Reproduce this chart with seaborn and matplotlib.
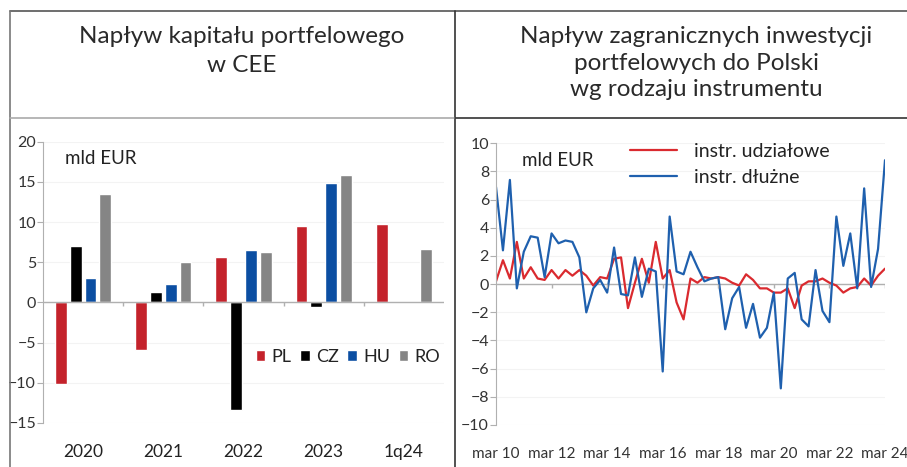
import numpy as np
import pandas as pd
import seaborn as sns
import matplotlib.pyplot as plt
from matplotlib.lines import Line2D

# left panel: portfolio inflows in CEE, bn EUR
periods = ["2020", "2021", "2022", "2023", "1q24"]
countries = ["PL", "CZ", "HU", "RO"]
pl = [-10.2, -5.9, 5.7, 9.5, 9.8]
cz = [7.0, 1.3, -13.4, -0.6, np.nan]
hu = [3.1, 2.3, 6.5, 14.9, np.nan]
ro = [13.5, 5.0, 6.3, 15.8, 6.6]
bar_colors = ["#C4222B", "#000000", "#0B4EA2", "#858585"]

# right panel: quarterly inflows to Poland by instrument, bn EUR
tick_labels = ["mar 10", "mar 12", "mar 14", "mar 16", "mar 18", "mar 20", "mar 22", "mar 24"]
udzialowe = [0.2, 1.7, 0.4, 3.0, 0.4, 1.2, 0.4, 0.3, 1.0, 0.4, 1.0, 0.6, 1.0, 0.6, -0.1, 0.5,
             0.4, 1.8, 1.9, -1.7, 0.1, 1.8, 0.1, 3.0, 0.4, 1.0, -1.3, -2.5, 0.4, 0.1, 0.5, 0.4,
             0.5, 0.4, 0.1, -0.1, 0.7, 0.3, -0.3, -0.3, -0.6, -0.6, -0.3, -1.7, -0.1, 0.2, 0.2, 0.4,
             0.1, -0.1, -0.6, -0.3, -0.2, 0.4, -0.1, 0.6, 1.1]
dluzne = [6.9, 2.4, 7.4, -0.3, 2.3, 3.4, 3.3, 0.5, 3.6, 2.9, 3.1, 3.0, 1.9, -2.0, -0.3, 0.3,
          -0.6, 2.6, -0.7, -0.8, 1.9, -0.9, 1.1, 0.9, -6.2, 4.8, 0.9, 0.7, 2.3, 1.2, 0.2, 0.4,
          0.5, -3.2, -1.0, -0.2, -3.1, -1.4, -3.8, -3.1, -0.6, -7.4, 0.4, 0.8, -2.5, -3.0, 1.0, -1.9,
          -2.7, 4.8, 1.3, 3.6, -0.3, 6.8, -0.2, 2.5, 8.8]

sns.set_style("white")
plt.rcParams["font.family"] = ["Lato", "DejaVu Sans"]
plt.rcParams["text.color"] = "#222222"

W, H = 907, 467
fig = plt.figure(figsize=(W / 100, H / 100), dpi=100)


def fx(px):
    return px / W


def fy(py):
    return 1 - py / H


# frame lines
for xs, ys, c in [([10, W], [11, 11], "#555555"), ([10, 10], [11, H], "#777777"),
                  ([455, 455], [11, H], "#333333"), ([10, 455], [118, 118], "#aaaaaa"),
                  ([455, W], [118, 118], "#333333")]:
    fig.add_artist(Line2D([fx(x) for x in xs], [fy(y) for y in ys], color=c, lw=1.2))

fig.text(fx(242), fy(51), "Napływ kapitału portfelowego\nw CEE", ha="center", va="center",
         fontsize=17.5, color="#2a2a2a", linespacing=1.45)
fig.text(fx(696), fy(63), "Napływ zagranicznych inwestycji\nportfelowych do Polski\nwg rodzaju instrumentu",
         ha="center", va="center", fontsize=17.5, color="#2a2a2a", linespacing=1.33)

# ---- left: bars
df = pd.DataFrame({"period": np.repeat(periods, 4),
                   "country": countries * len(periods),
                   "value": np.ravel(np.column_stack([pl, cz, hu, ro]))}).dropna()

ax1 = fig.add_axes([fx(43), fy(423), fx(444 - 43), (423 - 141.7) / H])
sns.barplot(data=df, x="period", y="value", hue="country", order=periods, hue_order=countries,
            palette=bar_colors, saturation=1, width=0.74, gap=0.2, ax=ax1, legend=True)
ax1.set_xlim(-0.5, len(periods) - 0.5)
ax1.set_ylim(-15, 20)
ax1.set_yticks(range(-15, 21, 5))
ax1.set_xlabel("")
ax1.set_ylabel("")
ax1.yaxis.grid(True, color="#f3f3f3", lw=0.8)
ax1.set_axisbelow(True)
for s in ["top", "right", "bottom"]:
    ax1.spines[s].set_visible(False)
ax1.spines["left"].set_color("#b0b0b0")
ax1.axhline(0, color="#b0b0b0", lw=1, zorder=1)
ax1.vlines(np.arange(0.5, len(periods) - 0.5), -0.5, 0, color="#b0b0b0", lw=1)
ax1.tick_params(axis="y", length=4, color="#b0b0b0", labelsize=11.5, labelcolor="#333333", pad=1, left=True)
ax1.tick_params(axis="x", length=0, labelsize=12.5, labelcolor="#222222", pad=15)
ax1.text(0.055, 0.94, "mld EUR", transform=ax1.transAxes, fontsize=13.5, va="center")
ax1.legend(loc="center left", bbox_to_anchor=(0.53, 0.235), ncol=4, frameon=False, fontsize=13,
           handlelength=0.55, handleheight=0.55, handletextpad=0.35, columnspacing=0.45,
           borderpad=0, borderaxespad=0)

# ---- right: lines
q = np.arange(len(dluzne))
ax2 = fig.add_axes([fx(496), fy(425), fx(885 - 496), (425 - 143.3) / H])
sns.lineplot(x=q, y=udzialowe, color="#DA2A2F", lw=1.6, ax=ax2, label="instr. udziałowe")
sns.lineplot(x=q, y=dluzne, color="#1F60AE", lw=1.6, ax=ax2, label="instr. dłużne")
ax2.set_xlim(0, len(q) - 1)
ax2.set_ylim(-10, 10)
ax2.set_yticks(range(-10, 11, 2))
ax2.set_xticks(q[::8])
ax2.set_xticklabels(tick_labels)
ax2.yaxis.grid(True, color="#f3f3f3", lw=0.8)
ax2.set_axisbelow(True)
for s in ["top", "right", "bottom"]:
    ax2.spines[s].set_visible(False)
ax2.spines["left"].set_color("#b0b0b0")
ax2.axhline(0, color="#b0b0b0", lw=1, zorder=1)
ax2.vlines(q[8::8], -0.3, 0, color="#b0b0b0", lw=1)
ax2.tick_params(axis="y", length=4, color="#b0b0b0", labelsize=11.5, labelcolor="#333333", pad=1, left=True)
ax2.tick_params(axis="x", length=0, labelsize=11, labelcolor="#333333", pad=16)
ax2.text(0.068, 0.94, "mld EUR", transform=ax2.transAxes, fontsize=13.5, va="center")
ax2.legend(loc="upper left", bbox_to_anchor=(0.32, 1.035), frameon=False, fontsize=14,
           handlelength=2.4, handletextpad=0.9, labelspacing=0.45, borderpad=0)

fig.savefig("out.png", dpi=100)
